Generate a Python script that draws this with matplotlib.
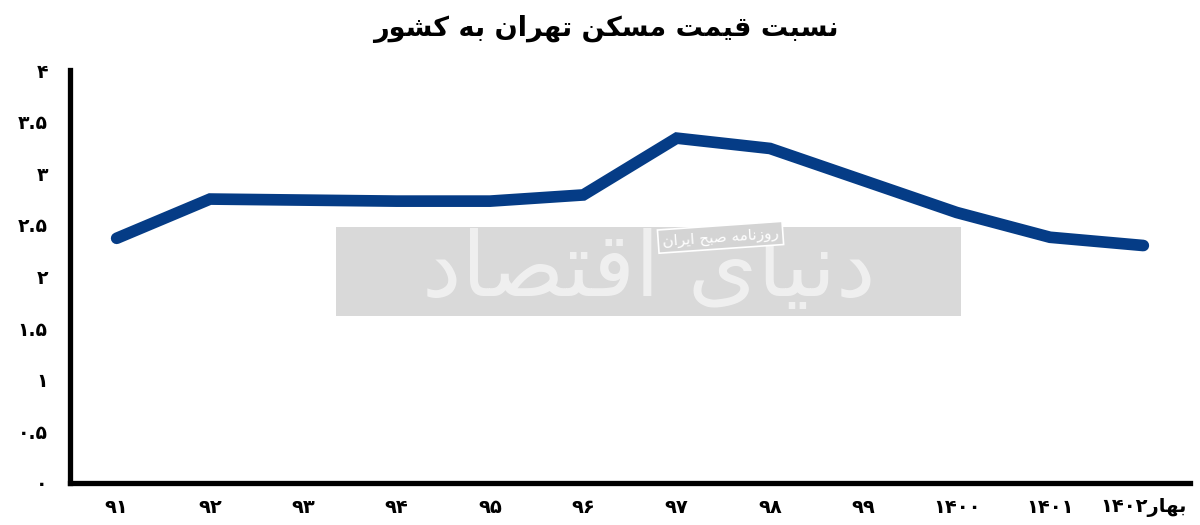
import matplotlib
matplotlib.use('Agg')
import matplotlib.pyplot as plt
from matplotlib.patches import Rectangle

# ---------------- data ----------------
categories = ['۹۱', '۹۲', '۹۳', '۹۴', '۹۵', '۹۶', '۹۷', '۹۸', '۹۹', '۱۴۰۰', '۱۴۰۱', 'بهار۱۴۰۲']
values = [2.37, 2.75, 2.74, 2.73, 2.73, 2.79, 3.34, 3.24, 2.93, 2.62, 2.38, 2.30]
yticks = [0, 0.5, 1, 1.5, 2, 2.5, 3, 3.5, 4]
title = 'نسبت قیمت مسکن تهران به کشور'
watermark = 'دنیای اقتصاد'
watermark_small = 'روزنامه صبح ایران'

# ---------------- minimal Arabic-script shaping ----------------
# (isolated, final, initial, medial); None => does not join to the next letter
FORMS = {
    'ا': ('\uFE8D', '\uFE8E', None, None),
    'ب': ('\uFE8F', '\uFE90', '\uFE91', '\uFE92'),
    'ت': ('\uFE95', '\uFE96', '\uFE97', '\uFE98'),
    'ح': ('\uFEA1', '\uFEA2', '\uFEA3', '\uFEA4'),
    'د': ('\uFEA9', '\uFEAA', None, None),
    'ر': ('\uFEAD', '\uFEAE', None, None),
    'ز': ('\uFEAF', '\uFEB0', None, None),
    'س': ('\uFEB1', '\uFEB2', '\uFEB3', '\uFEB4'),
    'ش': ('\uFEB5', '\uFEB6', '\uFEB7', '\uFEB8'),
    'ص': ('\uFEB9', '\uFEBA', '\uFEBB', '\uFEBC'),
    'ق': ('\uFED5', '\uFED6', '\uFED7', '\uFED8'),
    'م': ('\uFEE1', '\uFEE2', '\uFEE3', '\uFEE4'),
    'ن': ('\uFEE5', '\uFEE6', '\uFEE7', '\uFEE8'),
    'ه': ('\uFEE9', '\uFEEA', '\uFEEB', '\uFEEC'),
    'و': ('\uFEED', '\uFEEE', None, None),
    'ک': ('\uFED9', '\uFEDA', '\uFEDB', '\uFEDC'),
    'ی': ('\uFEEF', '\uFEF0', '\uFEF3', '\uFEF4'),
}
DIGITS = set('۰۱۲۳۴۵۶۷۸۹0123456789.')


def shape(s):
    out = []
    n = len(s)
    for i, c in enumerate(s):
        if c not in FORMS:
            out.append(c)
            continue
        iso, fin, ini, med = FORMS[c]
        prev_j = i > 0 and s[i - 1] in FORMS and FORMS[s[i - 1]][2] is not None
        next_j = i < n - 1 and s[i + 1] in FORMS and ini is not None
        if prev_j and next_j:
            out.append(med)
        elif prev_j:
            out.append(fin)
        elif next_j:
            out.append(ini)
        else:
            out.append(iso)
    shaped = ''.join(out)
    # split into runs (digits keep LTR order, letters are reversed)
    runs = []
    for ch in shaped:
        d = ch in DIGITS
        if runs and runs[-1][0] == d:
            runs[-1][1].append(ch)
        else:
            runs.append([d, [ch]])
    vis = []
    for d, chars in reversed(runs):
        vis.append(''.join(chars) if d else ''.join(reversed(chars)))
    return ''.join(vis)


def fa_num(v):
    s = ('%g' % v)
    return s.translate(str.maketrans('0123456789', '۰۱۲۳۴۵۶۷۸۹'))


plt.rcParams['font.family'] = ['DejaVu Sans']

fig = plt.figure(figsize=(12, 5.25), dpi=100)
ax = fig.add_axes([70 / 1200, 1 - 483 / 525, 1120 / 1200, 413 / 525])

x = list(range(len(categories)))

# watermark background
ax.add_patch(Rectangle((2.35, 1.62), 6.7, 0.86, facecolor='#d9d9d9',
                       edgecolor='none', zorder=1))

ax.plot(x, values, color='#053c86', linewidth=8.4, solid_capstyle='round',
        solid_joinstyle='miter', zorder=3)

ax.text(5.7, 2.05, shape(watermark), fontsize=64, color='white', alpha=0.6,
        ha='center', va='center', zorder=4, fontweight='normal')
ax.text(6.47, 2.38, shape(watermark_small), fontsize=11, color='white',
        ha='center', va='center', zorder=5, rotation=4,
        bbox=dict(facecolor='#d4d4d4', edgecolor='white', linewidth=1.2, pad=3))

ax.set_xlim(-0.5, 11.5)
ax.set_ylim(0, 4)
ax.set_yticks(yticks)
ax.set_yticklabels([fa_num(v) for v in yticks], fontsize=13.5, fontweight='bold')
ax.set_xticks(x)
ax.set_xticklabels([shape(c) for c in categories], fontsize=14, fontweight='bold')
ax.tick_params(axis='both', length=0)
ax.tick_params(axis='y', pad=16)
ax.tick_params(axis='x', pad=11)

for side in ['top', 'right']:
    ax.spines[side].set_visible(False)
for side in ['left', 'bottom']:
    ax.spines[side].set_linewidth(3.8)
    ax.spines[side].set_color('black')

fig.text(0.505, 0.945, shape(title), fontsize=19.5, fontweight='bold',
         ha='center', va='center')

fig.savefig('out.png', dpi=100, facecolor='white')
